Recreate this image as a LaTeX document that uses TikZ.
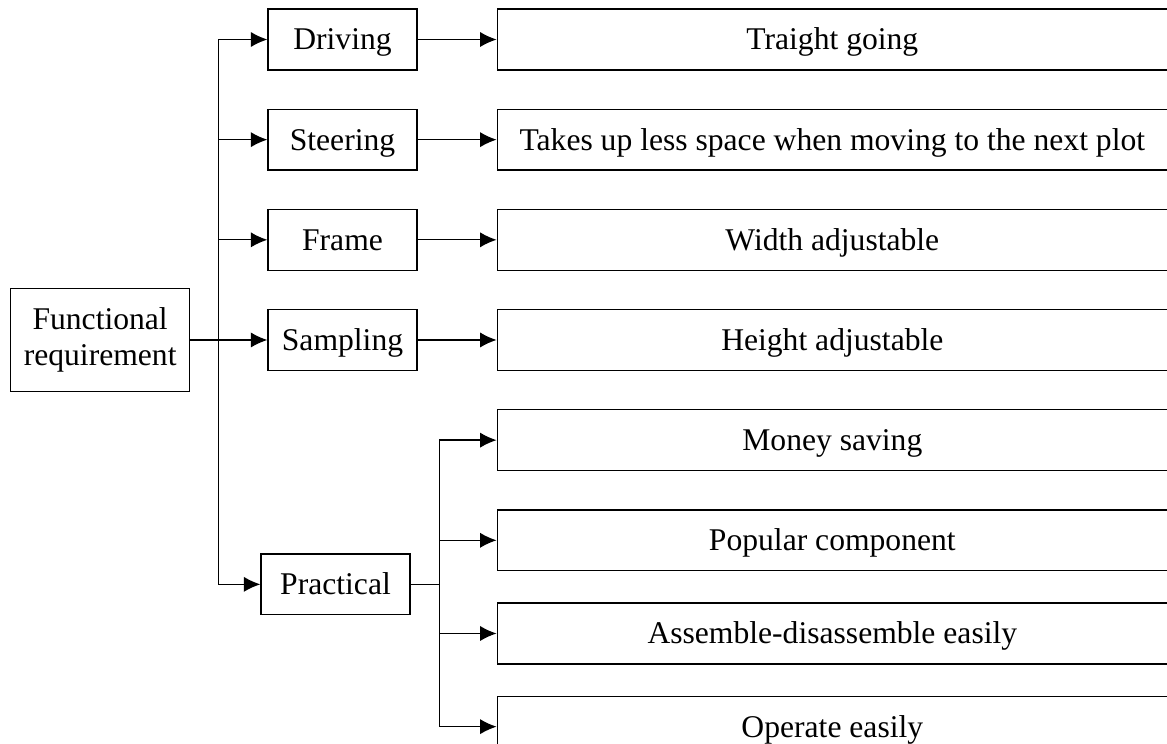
\documentclass[tikz,border=0pt]{standalone}
\usepackage{fontspec}
\setmainfont{Liberation Serif}
\usepackage{tikz}
\usetikzlibrary{positioning, calc, arrows.meta}

\begin{document}
\begin{tikzpicture}[node distance=1cm, line width=1pt]
        \tikzstyle{root} = [rectangle, minimum width=4.74cm, minimum height=2.72cm, align=center, draw=black, font=\fontsize{23.8}{27}\selectfont]
        \tikzstyle{func} = [rectangle, minimum width=3.94cm, minimum height=1.61cm, text centered, text height=20pt, text depth=4.3pt, draw=black, font=\fontsize{23.8}{27}\selectfont]
        \tikzstyle{need} = [rectangle, minimum width=17.73cm, minimum height=1.61cm, text centered, text height=20pt, text depth=4.3pt, draw=black, font=\fontsize{23.8}{27}\selectfont]
        \tikzstyle{arrow} = [-{Latex[length=12.5pt,width=11.5pt]}]

        \useasboundingbox (0,0) rectangle (30.877,-19.685);

        % Functions
        \node (drive) [func] at (9.062,-1.045) {Driving};
        \node (steer) [func, below=1.005cm of drive] {Steering};
        \node (frame) [func, below=1.005cm of steer] {Frame};
        \node (samp) [func, below=1.005cm of frame] {Sampling};
        \node (prac) [func, below=4.82cm of samp, xshift=-0.185cm] {Practical};
        \node (req) [root, left=2.037cm of samp] {Functional\\requirement};

        % Requirements
        \node (strt) [need, right=2.09cm of drive] {Traight going};
        \node (space) [need, right=2.09cm of steer] {Takes up less space when moving to the next plot};
        \node (width) [need, right=2.09cm of frame] {Width adjustable};
        \node (height) [need, right=2.09cm of samp] {Height adjustable};
        \node (money) [need, below=1.005cm of height] {Money saving};
        \node (popular) [need, below=1.005cm of money] {Popular component};
        \node (assem) [need, below=0.82cm of popular] {Assemble-disassemble easily};
        \node (operate) [need, below=0.82cm of assem] {Operate easily};

        % Branch points
        \coordinate (trunk) at ($(req.east)+(0.74,0)$);
        \coordinate (trunk2) at ($(prac.east)+(0.77,0)$);

        % Arrows
        \draw (req) -- (trunk);
        \draw [arrow] (trunk) |- (drive);
        \draw [arrow] (trunk) |- (steer);
        \draw [arrow] (trunk) |- (frame);
        \draw [arrow] (trunk) -- (samp);
        \draw [arrow] (trunk) |- (prac);
        \draw [arrow] (drive) -- (strt);
        \draw [arrow] (steer) -- (space);
        \draw [arrow] (frame) -- (width);
        \draw [arrow] (samp) -- (height);
        \draw (prac) -- (trunk2);
        \draw [arrow] (trunk2) |- (money);
        \draw [arrow] (trunk2) |- (popular);
        \draw [arrow] (trunk2) |- (assem);
        \draw [arrow] (trunk2) |- (operate);
    \end{tikzpicture}
\end{document}
